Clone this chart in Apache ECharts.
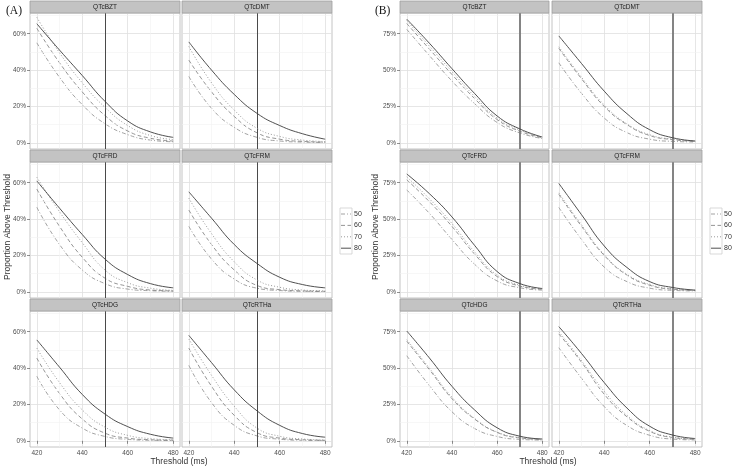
<!DOCTYPE html>
<html><head><meta charset="utf-8">
<script src="https://cdn.jsdelivr.net/npm/echarts@6/dist/echarts.min.js"></script>
<style>html,body{margin:0;padding:0;background:#fff}#c{width:734px;height:469px}</style>
</head><body><div id="c"></div>
<script>
// ---------- data ----------
const thresholds = [420, 430, 440, 450, 460, 470, 480];
const groups = ['50', '60', '70', '80'];
const facets = ['QTcBZT', 'QTcDMT', 'QTcFRD', 'QTcFRM', 'QTcHDG', 'QTcRTHa'];
const xTicks = [420, 440, 460, 480];
const xMinor = [430, 450, 470];
const yTicksA = [0, 20, 40, 60];
const yMinorA = [10, 30, 50, 70];
const yTicksB = [0, 25, 50, 75];
const yMinorB = [12.5, 37.5, 62.5, 87.5];
const cutoffA = 450;
const cutoffB = 470;

// Panel (A): proportion above threshold (%), rows = groups 50,60,70,80
const aBZT = [
  [55, 36, 21, 10.5, 4.5, 1.5, 0.6],
  [63, 44, 28, 15, 6.5, 2.5, 1],
  [69, 49.5, 33, 19.5, 9.5, 4, 1.8],
  [65.5, 51, 37, 22.8, 12, 6, 3]
];
const aDMT = [
  [36.5, 19, 8.5, 3, 1, 0.4, 0.2],
  [45.5, 28, 14.5, 5.5, 2, 0.8, 0.4],
  [53, 33, 18, 8, 3.5, 1.5, 0.7],
  [55.5, 40, 26.6, 16.2, 9.5, 5, 2]
];
const aFRD = [
  [46.5, 26, 12, 4.5, 1.5, 0.6, 0.3],
  [56.5, 36, 19, 7.5, 3, 1, 0.5],
  [63, 44, 27, 12, 5, 2, 0.8],
  [61, 46, 31.5, 18, 9.5, 4.5, 2.2]
];
const aFRM = [
  [36, 18, 7, 2, 0.7, 0.3, 0.2],
  [45, 26, 12, 3.5, 1.2, 0.5, 0.3],
  [51.5, 32, 16.5, 6.5, 2.5, 1, 0.5],
  [55, 40.5, 26, 15.6, 8, 4, 2.2]
];
const aHDG = [
  [35.5, 17, 7, 2.4, 0.8, 0.3, 0.2],
  [45.5, 26, 12, 4.2, 1.5, 0.6, 0.3],
  [51, 32, 17, 7.5, 3, 1.2, 0.6],
  [55.5, 40.5, 25.5, 14.7, 7.8, 3.6, 1.5]
];
const aRTHa = [
  [41.5, 21, 8.5, 2.7, 0.9, 0.3, 0.2],
  [51, 30, 14, 4.5, 1.5, 0.6, 0.3],
  [56, 36, 19, 7, 2.5, 1, 0.5],
  [58, 43, 28, 16.5, 8.5, 4, 2]
];
// Panel (B)
const bBZT = [
  [78, 60, 42.5, 27, 14, 6.8, 3],
  [82, 64.5, 47, 30.5, 16, 8, 3.5],
  [84, 66.5, 49, 32, 17, 8.8, 3.8],
  [85, 68.5, 51, 34, 18.5, 9.6, 4]
];
const bDMT = [
  [55, 34, 17, 7, 2.5, 1, 0.6],
  [65, 44, 25, 12.5, 5, 2.2, 1],
  [66, 45, 26, 13, 5.5, 2.5, 1],
  [73.5, 54.5, 35.5, 20, 9, 3.5, 1.3]
];
const bFRD = [
  [70, 54, 36, 19, 7.5, 2.8, 1.2],
  [77, 62, 45, 26, 10.5, 4, 1.8],
  [79, 64, 47, 27.5, 11.5, 4.5, 2],
  [81, 67.5, 51.5, 32, 14, 5.7, 2.3]
];
const bFRM = [
  [58, 36, 17, 7, 2.5, 1, 0.6],
  [67, 45, 25, 11.5, 4.5, 1.8, 1],
  [68, 46, 25.5, 12, 5, 2, 1],
  [74.5, 53, 31.5, 16.7, 7, 3, 1.2]
];
const bHDG = [
  [58.5, 38, 20, 8.5, 3, 1, 0.5],
  [68.5, 49, 29, 15, 5.8, 2, 1],
  [69.5, 50, 30, 15.5, 6, 2.2, 1],
  [75.5, 57, 37.5, 21.3, 9, 3.2, 1.3]
];
const bRTHa = [
  [64, 43, 23.5, 10.5, 3.8, 1.2, 0.6],
  [73.5, 54, 32, 16.5, 6.5, 2.3, 1.1],
  [75, 55, 34, 17.5, 7, 2.5, 1.2],
  [78.5, 60, 40, 22.5, 10, 4, 1.6]
];

// ---------- styles / layout ----------
const SANS = 'Liberation Sans, Arial, sans-serif';
const lineStyles = [
  { color: '#8a8a8a', width: 0.8, type: [4, 2, 1, 2] },   // 50 dash-dot
  { color: '#7a7a7a', width: 0.8, type: [4, 2.5] },       // 60 dashed
  { color: '#8f8f8f', width: 0.9, type: [1, 2] },         // 70 dotted
  { color: '#3c3c3c', width: 0.9, type: 'solid' }         // 80 solid
];
const rowTops = [13, 162, 311];
const plotH = 136;
const stripH = 12;

const panels = [
  { cols: [30, 182], widths: [150, 150], yMin: -3.4, yMax: 71.4, yTicks: yTicksA, yMinor: yMinorA,
    cut: cutoffA, cutColor: '#4a4a4a', cutWidth: 1,
    data: [aBZT, aDMT, aFRD, aFRM, aHDG, aRTHa], tag: '(A)', tagX: 6,
    yTitleX: 8, xTitleX: 179, legendX: 340 },
  { cols: [400, 552], widths: [149, 150], yMin: -4.25, yMax: 89.25, yTicks: yTicksB, yMinor: yMinorB,
    cut: cutoffB, cutColor: '#777777', cutWidth: 1.8,
    data: [bBZT, bDMT, bFRD, bFRM, bHDG, bRTHa], tag: '(B)', tagX: 375,
    yTitleX: 376, xTitleX: 548, legendX: 710 }
];

const grid = [], xAxis = [], yAxis = [], series = [], graphic = [];
let gi = 0;
panels.forEach(p => {
  for (let f = 0; f < 6; f++) {
    const r = Math.floor(f / 2), c = f % 2;
    const left = p.cols[c], top = rowTops[r], w = p.widths[c];
    grid.push({ left: left, top: top, width: w, height: plotH, show: true,
      backgroundColor: '#ffffff', borderColor: '#b5b5b5', borderWidth: 0.8 });
    xAxis.push({ gridIndex: gi, type: 'value', min: 417, max: 483,
      axisLine: { show: false },
      axisTick: { show: r === 2, customValues: xTicks, length: 3, lineStyle: { color: '#444', width: 0.6 } },
      axisLabel: { show: r === 2, customValues: xTicks, fontSize: 6.5, color: '#4d4d4d', margin: 3, fontFamily: SANS },
      splitLine: { show: true, lineStyle: { color: '#e0e0e0', width: 0.8 } } });
    yAxis.push({ gridIndex: gi, type: 'value', min: p.yMin, max: p.yMax,
      axisLine: { show: false },
      axisTick: { show: c === 0, customValues: p.yTicks, length: 3, lineStyle: { color: '#444', width: 0.6 } },
      axisLabel: { show: c === 0, customValues: p.yTicks, fontSize: 6.5, color: '#4d4d4d', margin: 4,
        fontFamily: SANS, formatter: '{value}%' },
      splitLine: { show: true, lineStyle: { color: '#e0e0e0', width: 0.8 } } });
    const vals = p.data[f];
    groups.forEach((g, k) => {
      const s = {
        name: g, type: 'line', xAxisIndex: gi, yAxisIndex: gi,
        data: thresholds.map((t, j) => [t, vals[k][j]]),
        showSymbol: false, smooth: 0.5, silent: true, animation: false,
        lineStyle: lineStyles[k], z: 3 + k
      };
      if (k === 0) {
        s.markLine = { silent: true, symbol: ['none', 'none'], label: { show: false }, animation: false,
          lineStyle: { color: '#f1f1f1', width: 0.6, type: 'solid' },
          data: p.yMinor.filter(v => v < p.yMax).map(v => ({ yAxis: v })).concat(xMinor.map(v => ({ xAxis: v }))) };
      }
      if (k === 3) {
        s.markLine = { silent: true, symbol: ['none', 'none'], label: { show: false }, animation: false,
          lineStyle: { color: p.cutColor, width: p.cutWidth, type: 'solid' },
          data: [{ xAxis: p.cut }] };
      }
      series.push(s);
    });
    // facet strip
    graphic.push({ type: 'rect', silent: true, z: 10,
      shape: { x: left, y: top - stripH, width: w, height: stripH },
      style: { fill: '#c3c3c3', stroke: '#a0a0a0', lineWidth: 0.8 } });
    graphic.push({ type: 'text', silent: true, z: 11, x: left + w / 2, y: top - stripH / 2 + 0.5,
      style: { text: facets[f], fontSize: 6.5, fontFamily: SANS, fill: '#222', textAlign: 'center', textVerticalAlign: 'middle' } });
    gi++;
  }
  // tag
  graphic.push({ type: 'text', silent: true, x: p.tagX, y: 11,
    style: { text: p.tag, fontSize: 11.5, fontFamily: 'Liberation Serif, Times New Roman, serif', fill: '#111', textAlign: 'left', textVerticalAlign: 'middle' } });
  // axis titles
  graphic.push({ type: 'text', silent: true, x: p.yTitleX, y: 227, rotation: Math.PI / 2,
    style: { text: 'Proportion Above Threshold', fontSize: 8.5, fontFamily: SANS, fill: '#333', textAlign: 'center', textVerticalAlign: 'middle' } });
  graphic.push({ type: 'text', silent: true, x: p.xTitleX, y: 462,
    style: { text: 'Threshold (ms)', fontSize: 8.5, fontFamily: SANS, fill: '#333', textAlign: 'center', textVerticalAlign: 'middle' } });
  // legend
  const lx = p.legendX, ly = 208;
  graphic.push({ type: 'rect', silent: true, shape: { x: lx, y: ly, width: 12, height: 46 },
    style: { fill: '#fff', stroke: '#cfcfcf', lineWidth: 0.8 } });
  groups.forEach((g, k) => {
    const yy = ly + 6 + k * 11.4;
    const ls = lineStyles[k];
    graphic.push({ type: 'line', silent: true, shape: { x1: lx + 1, y1: yy, x2: lx + 11, y2: yy },
      style: { stroke: ls.color, lineWidth: ls.width, lineDash: ls.type === 'solid' ? null : ls.type } });
    graphic.push({ type: 'text', silent: true, x: lx + 14, y: yy,
      style: { text: g, fontSize: 7, fontFamily: SANS, fill: '#333', textAlign: 'left', textVerticalAlign: 'middle' } });
  });
});

const chart = echarts.init(document.getElementById('c'), null, { renderer: 'canvas' });
chart.setOption({ animation: false, backgroundColor: '#ffffff', grid, xAxis, yAxis, series, graphic });
</script>
</body></html>
